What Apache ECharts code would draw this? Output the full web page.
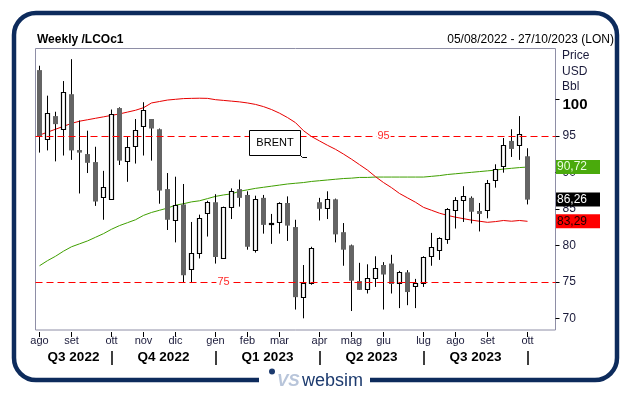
<!DOCTYPE html>
<html><head><meta charset="utf-8">
<script src="https://cdn.jsdelivr.net/npm/echarts@6/dist/echarts.min.js"></script>
<style>html,body{margin:0;padding:0;background:#fff}#c{width:629px;height:394px}</style>
</head><body><div id="c"></div>
<script>
// ---- data ----
const weeks = [
 '05/08/2022','12/08/2022','19/08/2022','26/08/2022',
 '02/09/2022','09/09/2022','16/09/2022','23/09/2022','30/09/2022',
 '07/10/2022','14/10/2022','21/10/2022','28/10/2022',
 '04/11/2022','11/11/2022','18/11/2022','25/11/2022',
 '02/12/2022','09/12/2022','16/12/2022','23/12/2022','30/12/2022',
 '06/01/2023','13/01/2023','20/01/2023','27/01/2023',
 '03/02/2023','10/02/2023','17/02/2023','24/02/2023',
 '03/03/2023','10/03/2023','17/03/2023','24/03/2023','31/03/2023',
 '07/04/2023','14/04/2023','21/04/2023','28/04/2023',
 '05/05/2023','12/05/2023','19/05/2023','26/05/2023',
 '02/06/2023','09/06/2023','16/06/2023','23/06/2023','30/06/2023',
 '07/07/2023','14/07/2023','21/07/2023','28/07/2023',
 '04/08/2023','11/08/2023','18/08/2023','25/08/2023',
 '01/09/2023','08/09/2023','15/09/2023','22/09/2023','29/09/2023',
 '06/10/2023','13/10/2023','20/10/2023','27/10/2023'
];
const open  = [104.0,94.5,97.7,95.9,100.7,93.05,92.5,91.4,86.6,86.3,98.8,91.6,93.6,96.4,97.3,95.9,87.7,83.5,85.6,76.7,79.0,84.4,85.9,78.3,85.3,87.7,86.9,79.4,86.5,83.0,83.15,85.8,82.5,72.9,74.9,85.9,85.1,86.3,81.8,80.0,75.1,74.0,75.5,77.3,77.5,74.8,76.3,74.4,74.9,78.5,79.3,80.8,84.9,86.2,86.5,84.7,84.8,88.9,90.8,94.3,93.7,92.2];
const high  = [104.6,100.5,98.3,102.5,105.5,97.1,95.7,93.5,90.2,98.6,98.9,94.9,97.3,99.6,97.3,96.0,89.9,89.4,88.4,83.2,84.2,86.1,87.0,85.3,87.8,89.0,87.4,86.8,86.9,84.3,85.9,86.7,83.5,77.3,79.8,86.5,87.4,86.4,83.05,80.1,77.6,77.4,78.5,77.7,78.7,76.5,76.6,75.4,78.5,81.7,81.1,85.1,86.6,88.1,86.7,85.8,88.95,91.1,94.7,95.9,97.7,93.3];
const low   = [92.7,93.0,91.5,92.3,91.7,87.1,89.9,85.4,83.5,86.3,91.0,88.7,91.2,92.3,91.6,85.7,82.1,80.4,74.9,74.9,78.2,81.2,77.5,78.3,83.6,85.3,79.4,79.0,81.6,80.2,81.6,80.6,71.2,70.0,74.6,83.4,83.6,80.4,77.2,71.0,73.9,73.4,74.3,71.2,73.4,71.4,71.8,71.4,74.3,77.2,78.0,80.2,82.3,83.2,83.0,81.9,83.7,87.9,89.95,92.1,91.7,85.6];
const close = [94.9,98.1,96.6,101.0,93.0,92.7,91.3,86.0,87.95,97.95,91.6,93.4,95.75,98.6,96.0,87.5,83.5,85.5,75.9,78.9,83.8,85.9,78.4,85.2,87.5,86.5,79.8,86.3,82.8,83.1,85.75,82.7,72.9,74.9,79.7,85.0,86.3,81.5,79.4,75.15,73.9,75.5,76.85,76.0,74.7,76.4,73.6,74.8,78.4,79.8,81.0,85.0,86.2,86.7,84.6,84.3,88.5,90.5,93.8,93.2,95.3,86.26];
const maRed = [95.1,95.5,95.9,96.3,96.7,97.0,97.2,97.4,97.6,97.8,98.0,98.25,98.5,98.85,99.5,99.7,99.9,100.0,100.1,100.13,100.15,100.13,99.95,99.85,99.75,99.65,99.5,99.3,99.0,98.6,98.1,97.5,96.8,95.7,94.9,94.3,93.7,93.15,92.5,91.8,91.05,90.3,89.4,88.6,87.9,87.1,86.5,85.9,85.2,84.8,84.4,84.1,83.85,83.65,83.45,83.3,83.15,83.25,83.4,83.3,83.4,83.29];
const maGreen = [77.2,77.9,78.5,79.2,79.8,80.2,80.6,81.1,81.6,82.2,82.7,83.1,83.5,84.1,84.5,84.8,85.1,85.5,85.7,85.95,86.1,86.4,86.7,86.9,87.05,87.4,87.6,87.8,87.95,88.1,88.25,88.4,88.5,88.6,88.75,88.85,88.95,89.05,89.15,89.2,89.3,89.3,89.35,89.35,89.35,89.35,89.35,89.35,89.35,89.45,89.55,89.7,89.8,89.9,90.0,90.1,90.2,90.3,90.45,90.55,90.65,90.72];
const monthTickIdx = [0,4,9,13,17,22,26,30,35,39,43,48,52,56,61];
const monthTickLbl = ['ago','set','ott','nov','dic','gen','feb','mar','apr','mag','giu','lug','ago','set','ott'];
const quarterSep = [9,22,35,48,61];
const quarterLbl = ['Q3 2022','Q4 2022','Q1 2023','Q2 2023','Q3 2023'];
const yTicks = [70,75,80,85,90,95,100];
const refLevels = [95,75];
const refLabelAt = [43,23];

// ---- chart ----
const FF = 'Liberation Sans, Arial, sans-serif';
const TXT = '#1a1a3a';
const qBounds = [-0.5].concat(quarterSep);
const quarterCenters = quarterLbl.map((_, k) => (qBounds[k] + qBounds[k+1]) / 2);

const chart = echarts.init(document.getElementById('c'), null, {renderer:'canvas'});
const candleData = open.map((o,i)=>[i,o,close[i],low[i],high[i]]);

chart.setOption({
  animation:false,
  backgroundColor:'#fff',
  grid:{left:35.5, top:48.5, width:520, height:281.5, show:true, borderColor:'#8e8ea6', borderWidth:1, backgroundColor:'transparent'},
  xAxis:[
    {type:'category', data:weeks, boundaryGap:true, offset:2,
     axisLine:{show:false, onZero:false},
     axisTick:{show:true, alignWithLabel:true, length:5, interval:(i)=>monthTickIdx.indexOf(i)>=0, lineStyle:{color:'#000'}},
     axisLabel:{interval:(i)=>monthTickIdx.indexOf(i)>=0, formatter:(v,i)=>monthTickLbl[monthTickIdx.indexOf(i)]||'', fontSize:11, color:TXT, margin:3, fontFamily:FF},
     splitLine:{show:false}},
    {type:'value', min:-0.5, max:64.5, position:'bottom', offset:21,
     axisLine:{show:false, onZero:false}, splitLine:{show:false},
     axisTick:{show:true, customValues:quarterSep, length:14, lineStyle:{color:'#000', width:1.5}},
     axisLabel:{customValues:quarterCenters, formatter:(v)=>{const k=quarterCenters.indexOf(v);return k>=0?quarterLbl[k]:'';}, fontWeight:'bold', fontSize:13.5, color:'#000', margin:-1, fontFamily:FF}}
  ],
  yAxis:{type:'value', position:'right', min:68.4, max:106.96, scale:true,
    axisLine:{show:false, onZero:false}, splitLine:{show:false},
    axisTick:{show:true, customValues:yTicks, length:4, lineStyle:{color:'#000'}},
    axisLabel:{customValues:yTicks, margin:7, fontSize:12, color:TXT, fontFamily:FF,
      formatter:(v)=> v===100 ? '{b|100}' : String(v),
      rich:{b:{fontWeight:'bold', fontSize:15, color:'#000', fontFamily:FF, padding:[12,0,0,0]}}}},
  series:[
    {type:'line', name:'maGreen', data:maGreen, symbol:'none', lineStyle:{color:'#3f9f00', width:1}, z:2},
    {type:'line', name:'maRed', data:maRed, symbol:'none', lineStyle:{color:'#e80000', width:1}, z:2,
      markLine:{silent:true, symbol:'none', label:{show:false},
        lineStyle:{color:'#ff0000', type:[7,4], width:1.2},
        data:refLevels.map(v=>({yAxis:v}))},
      markPoint:{silent:true, symbol:'rect', symbolSize:[1,1], itemStyle:{color:'transparent'},
        label:{show:true, position:'inside', color:'#ff2a2a', fontSize:11, fontFamily:FF, backgroundColor:'#fff', padding:[0,1]},
        data:refLevels.map((v,k)=>({coord:[refLabelAt[k], v], value:String(v)}))}},
    {type:'custom', name:'LCOc1', data:candleData, encode:{x:0, y:[1,2,3,4]}, z:3,
      renderItem:(p, api)=>{
        const i=api.value(0), o=api.value(1), c=api.value(2), l=api.value(3), h=api.value(4);
        const po=api.coord([i,o]); const cx=po[0];
        const yo=po[1], yc=api.coord([i,c])[1], yl=api.coord([i,l])[1], yh=api.coord([i,h])[1];
        const top=Math.min(yo,yc), bot=Math.max(yo,yc);
        const ch=[{type:'line', shape:{x1:cx,y1:yh,x2:cx,y2:yl}, style:{stroke:'#000', lineWidth:1}}];
        if(c>=o){
          const t=Math.round(top)+0.5, b=Math.round(bot)+0.5;
          ch.push({type:'rect', shape:{x:cx-2, y:t, width:4, height:Math.max(1,b-t)}, style:{fill:'#fff', stroke:'#000', lineWidth:1.2}});
        } else {
          ch.push({type:'rect', shape:{x:cx-2.5, y:top, width:5, height:Math.max(1,bot-top)}, style:{fill:'#646464'}});
        }
        return {type:'group', children:ch};
      }}
  ]
});

// ---- annotations (last values, header, frame) ----
const last = close.length-1;
const fmt = v => v.toFixed(2).replace('.', ',');
const boxes = [
  {v:maGreen[last], fill:'#4aaa0c', color:'#eafde0'},
  {v:close[last], fill:'#000', color:'#fff'},
  {v:maRed[last], fill:'#ff0000', color:'#1a0000'}
];
const g = [];
boxes.forEach(b=>{
  const y = chart.convertToPixel({yAxisIndex:0}, b.v);
  g.push({type:'rect', z:100, shape:{x:556, y:y-7, width:44, height:14}, style:{fill:b.fill}});
  g.push({type:'text', z:101, x:557, y:y, style:{text:fmt(b.v), fill:b.color, font:'12px '+FF, textVerticalAlign:'middle'}});
});
// header
g.push({type:'text', z:100, x:37, y:40, style:{text:'Weekly /LCOc1', font:'bold 12px '+FF, fill:'#000', textVerticalAlign:'middle'}});
g.push({type:'text', z:100, x:614, y:40, style:{text:'05/08/2022 - 27/10/2023 (LON)', font:'12px '+FF, fill:'#000', textAlign:'right', textVerticalAlign:'middle'}});
['Price','USD','Bbl'].forEach((t,k)=>g.push({type:'text', z:100, x:562, y:56+k*15.5, style:{text:t, font:'12px '+FF, fill:TXT, textVerticalAlign:'middle'}}));
// BRENT label
g.push({type:'rect', z:100, shape:{x:249.5, y:130.5, width:51, height:25}, style:{fill:'#fff', stroke:'#000', lineWidth:1}});
g.push({type:'text', z:101, x:275, y:143, style:{text:'BRENT', font:'11px '+FF, fill:'#000', textAlign:'center', textVerticalAlign:'middle'}});
g.push({type:'polyline', z:100, shape:{points:[[300.5,155.5],[302.5,157.5],[307,157.5]]}, style:{stroke:'#000', lineWidth:1, fill:null}});
// frame
g.push({type:'rect', z:90, shape:{x:14, y:13, width:603, height:367, r:22}, style:{fill:null, stroke:'#0d2b5c', lineWidth:4.5}});
g.push({type:'rect', z:95, shape:{x:259, y:372, width:111, height:14}, style:{fill:'#fff'}});
g.push({type:'circle', z:100, shape:{cx:272, cy:371.5, r:3}, style:{fill:'#1c3a6e'}});
g.push({type:'text', z:100, x:277, y:381, style:{text:'VS', font:'italic bold 17px '+FF, fill:'#b8c5da', textVerticalAlign:'middle'}});
g.push({type:'text', z:100, x:302, y:381, style:{text:'websim', font:'18px '+FF, fill:'#1c3a6e', textVerticalAlign:'middle'}});
chart.setOption({graphic:{elements:g}});
</script></body></html>
